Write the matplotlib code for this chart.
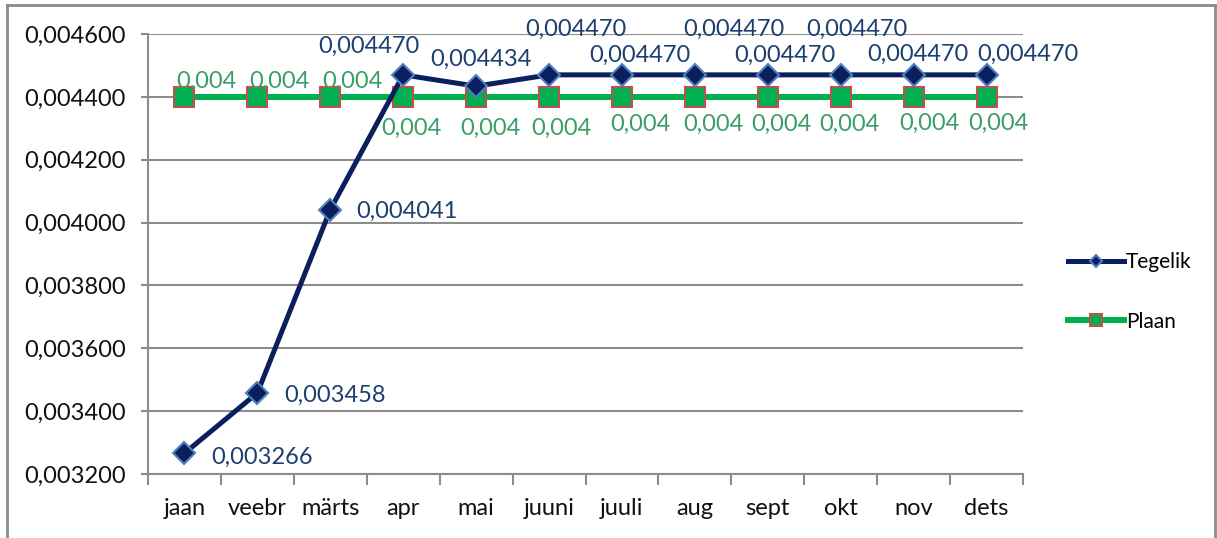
import matplotlib
matplotlib.use("Agg")
import matplotlib.pyplot as plt
from matplotlib.ticker import FuncFormatter, FixedLocator
from matplotlib.lines import Line2D

# andmed
kuud = ["jaan", "veebr", "märts", "apr", "mai", "juuni", "juuli", "aug",
        "sept", "okt", "nov", "dets"]
tegelik = [0.003266, 0.003458, 0.004041, 0.004470, 0.004434, 0.004470,
           0.004470, 0.004470, 0.004470, 0.004470, 0.004470, 0.004470]
plaan = [0.0044] * 12

# sildi nihked (pikslites, keskpunkt markeri suhtes, y ülespoole)
teg_nihe = [(27, -2), (27, 0), (26, 0), (-34, 31), (5, 29), (27, 48),
            (18, 22), (39, 48), (17, 22), (16, 48), (4, 23), (41, 23)]
teg_joond = ["left", "left", "left"] + ["center"] * 9
plaan_nihe = [(22, 18), (22, 18), (22, 18), (8, -29), (14, -29), (12, -29),
              (18, -25), (18, -25), (14, -25), (9, -25), (16, -24), (12, -24)]

plt.rcParams['font.family'] = ['Lato', 'DejaVu Sans']

SININE = "#0b1f5e"
ROHE = "#00b050"
GRID = "#8c8c8c"

fig = plt.figure(figsize=(12.17, 5.38), dpi=100)
ax = fig.add_axes([148/1217, 1 - 474/538, 875/1217, 440/538])

x = list(range(len(kuud)))
ax.plot(x, plaan, color=ROHE, lw=4.3, marker="s", ms=14,
        mfc=ROHE, mec="#c0504d", mew=1.5, label="Plaan", zorder=3)
ax.plot(x, tegelik, color=SININE, lw=3.6, marker="D", ms=11,
        mfc=SININE, mec="#4f81bd", mew=1.5, label="Tegelik", zorder=4)

fs = 17
for i, v in enumerate(tegelik):
    dx, dy = teg_nihe[i]
    ax.annotate(f"{v:.6f}".replace(".", ","), (i, v), xytext=(dx, dy - 8.5),
                textcoords="offset pixels", ha=teg_joond[i], va="baseline",
                color="#1b3f6f", fontsize=fs, zorder=5)
for i, v in enumerate(plaan):
    dx, dy = plaan_nihe[i]
    ax.annotate(f"{v:.3f}".replace(".", ","), (i, v), xytext=(dx, dy - 8.5),
                textcoords="offset pixels", ha="center", va="baseline",
                color="#3a9e66", fontsize=fs, zorder=5)

ax.set_ylim(0.0032, 0.0046)
ax.set_yticks([0.0032 + 0.0002 * k for k in range(8)])
ax.yaxis.set_major_formatter(FuncFormatter(lambda v, p: f"{v:.6f}".replace(".", ",")))
ax.set_xlim(-0.5, 11.5)
ax.xaxis.set_major_locator(FixedLocator([k - 0.5 for k in range(13)]))
ax.xaxis.set_major_formatter(FuncFormatter(lambda v, p: ""))
ax.xaxis.set_minor_locator(FixedLocator(x))
ax.set_xticklabels(kuud, minor=True)

ax.grid(axis="y", color=GRID, lw=1.5)
ax.set_axisbelow(True)
for s in ["top", "right"]:
    ax.spines[s].set_visible(False)
for s in ["left", "bottom"]:
    ax.spines[s].set_color(GRID)
    ax.spines[s].set_linewidth(1.5)
ax.tick_params(axis="y", which="major", length=5, width=1.5, color=GRID,
               labelsize=fs, pad=11, labelcolor="#111111")
ax.tick_params(axis="x", which="major", length=8, width=1.5, color=GRID)
ax.tick_params(axis="x", which="minor", length=0, labelsize=fs, pad=17,
               labelcolor="#111111")

h, l = ax.get_legend_handles_labels()
fig.legend(h[::-1], l[::-1], loc="center left", bbox_to_anchor=(1049/1217, 1 - 292/538),
           frameon=False, fontsize=15, handlelength=2.7, handletextpad=0.1,
           labelspacing=1.9, numpoints=1, markerscale=0.6)

# raam (alumine serv jääb pildist välja)
W, H = 1217, 538
raam = [((7, 7), (H, 5)), ((7, 1215), (5, 5)), ((1215, 1215), (5, H))]
for xs, ys in raam:
    fig.add_artist(Line2D([xs[0] / W, xs[1] / W], [1 - ys[0] / H, 1 - ys[1] / H],
                          transform=fig.transFigure, color="#8a8a8a", lw=2))

fig.savefig("out.png", dpi=100)
